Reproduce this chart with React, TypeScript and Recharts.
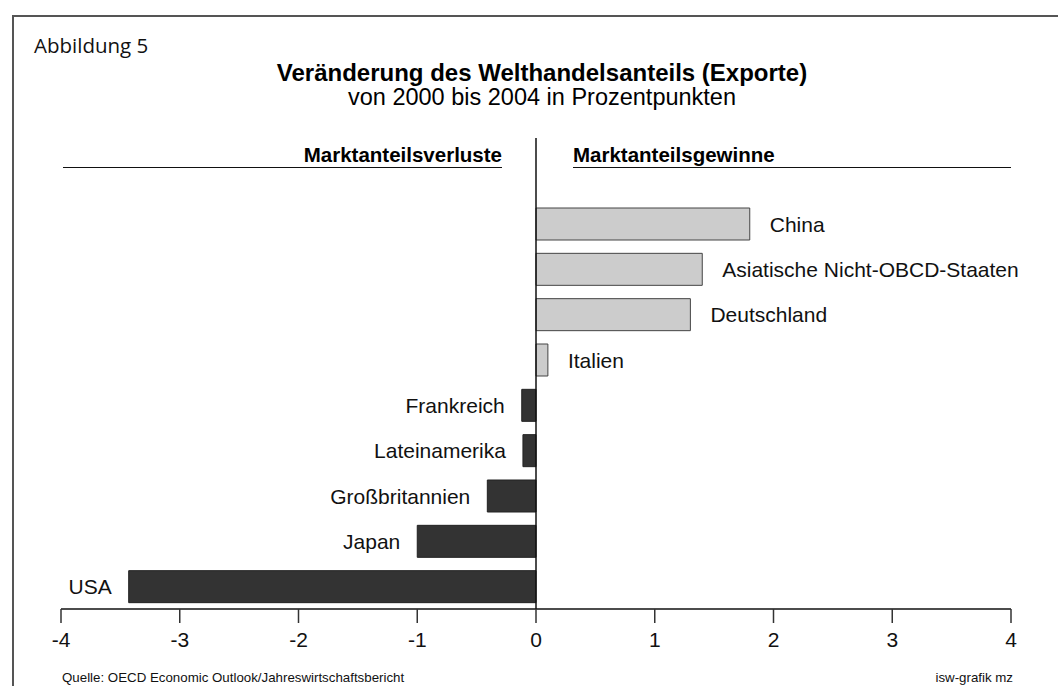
import { BarChart, Bar, XAxis, YAxis, Cell, LabelList, ReferenceLine } from "recharts";

// Regionen von oben nach unten
const regions = [
  "China",
  "Asiatische Nicht-OBCD-Staaten",
  "Deutschland",
  "Italien",
  "Frankreich",
  "Lateinamerika",
  "Großbritannien",
  "Japan",
  "USA",
];

// Veränderung in Prozentpunkten
const changes = [1.8, 1.4, 1.3, 0.1, -0.12, -0.11, -0.41, -1.0, -3.43];

const xTicks = [-4, -3, -2, -1, 0, 1, 2, 3, 4];

const data = regions.map((name, i) => ({ name, value: changes[i] }));

const FONT = "'Liberation Sans', Arial, sans-serif";

const RegionLabel = (props: any) => {
  const { x, y, width, height, index, value } = props;
  const v = changes[index];
  const left = Math.min(x, x + width);
  const right = Math.max(x, x + width);
  const cy = y + height / 2;
  const gain = v >= 0;
  return (
    <text
      x={gain ? right + 20 : left - 17}
      y={cy}
      textAnchor={gain ? "start" : "end"}
      dominantBaseline="central"
      fontSize={21}
      fontFamily={FONT}
      fill="#111"
    >
      {value}
    </text>
  );
};

export default function App() {
  return (
    <div
      style={{
        position: "absolute",
        left: 0,
        top: 0,
        width: 1058,
        height: 686,
        background: "#fff",
        overflow: "hidden",
        fontFamily: FONT,
      }}
    >
      {/* Rahmen */}
      <div
        style={{
          position: "absolute",
          left: 12,
          top: 15,
          width: 1100,
          height: 700,
          borderTop: "2px solid #555",
          borderLeft: "2px solid #555",
        }}
      />
      <div
        style={{
          position: "absolute",
          left: 34,
          top: 31,
          fontFamily: "'Open Sans', sans-serif",
          fontSize: 20.5,
          lineHeight: "28px",
          color: "#111",
        }}
      >
        Abbildung 5
      </div>
      <div
        style={{
          position: "absolute",
          left: 242,
          width: 600,
          top: 60,
          textAlign: "center",
          color: "#000",
          lineHeight: "25px",
        }}
      >
        <div style={{ fontWeight: "bold", fontSize: 24 }}>
          Veränderung des Welthandelsanteils (Exporte)
        </div>
        <div style={{ fontSize: 23.5 }}>von 2000 bis 2004 in Prozentpunkten</div>
      </div>

      <BarChart
        width={1058}
        height={686}
        data={data}
        layout="vertical"
        margin={{ top: 138, right: 47, left: 61, bottom: 47 }}
        barSize={32}
      >
        <XAxis
          type="number"
          domain={[-4, 4]}
          ticks={xTicks}
          height={30}
          axisLine={{ stroke: "#111", strokeWidth: 1.5 }}
          tickLine={{ stroke: "#333", strokeWidth: 1.5 }}
          tickSize={14}
          tickMargin={9}
          tick={{ fill: "#111", fontSize: 21, fontFamily: FONT }}
        />
        <YAxis type="category" dataKey="name" hide padding={{ top: 63, bottom: 0 }} />
        <ReferenceLine x={0} stroke="#111" strokeWidth={1.5} />
        <Bar dataKey="value" isAnimationActive={false} strokeWidth={1}>
          {data.map((d, i) => (
            <Cell
              key={i}
              fill={d.value >= 0 ? "#cccccc" : "#333333"}
              stroke={d.value >= 0 ? "#444" : "#222"}
            />
          ))}
          <LabelList dataKey="name" content={<RegionLabel />} />
        </Bar>
      </BarChart>

      {/* Kopfzeilen über den Balken */}
      <div
        style={{
          position: "absolute",
          left: 63,
          width: 439,
          top: 143,
          height: 24,
          lineHeight: "24px",
          borderBottom: "1.5px solid #111",
          textAlign: "right",
          fontWeight: "bold",
          fontSize: 20.5,
          color: "#000",
        }}
      >
        Marktanteilsverluste
      </div>
      <div
        style={{
          position: "absolute",
          left: 573,
          width: 438,
          top: 143,
          height: 24,
          lineHeight: "24px",
          borderBottom: "1.5px solid #111",
          fontWeight: "bold",
          fontSize: 20.5,
          color: "#000",
        }}
      >
        Marktanteilsgewinne
      </div>

      <div style={{ position: "absolute", left: 62, top: 670, fontSize: 13.3, color: "#111" }}>
        Quelle: OECD Economic Outlook/Jahreswirtschaftsbericht
      </div>
      <div style={{ position: "absolute", right: 45, top: 670, fontSize: 13.3, color: "#111" }}>
        isw-grafik mz
      </div>
    </div>
  );
}
